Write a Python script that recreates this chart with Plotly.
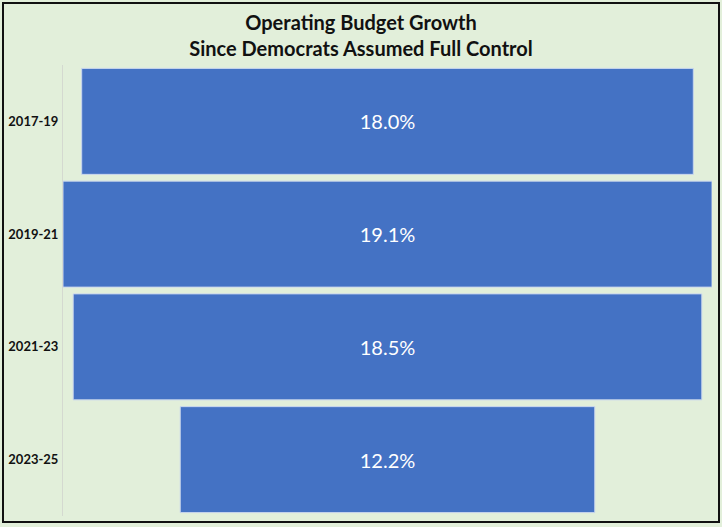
import plotly.graph_objects as go

periods = ["2017-19", "2019-21", "2021-23", "2023-25"]
growth = [18.0, 19.1, 18.5, 12.2]

bg = "#E2EFDA"
bar_color = "#4472C4"
half = max(growth) / 2

fig = go.Figure(go.Funnel(
    y=periods,
    x=growth,
    texttemplate="%{x:.1f}%",
    textposition="inside",
    textfont=dict(color="white", size=20, family="Lato"),
    marker=dict(color=bar_color, line=dict(color="#C9D6EE", width=1)),
    connector=dict(visible=False),
    hoverinfo="y+x",
))

fig.update_layout(
    width=722, height=527,
    paper_bgcolor=bg, plot_bgcolor=bg,
    margin=dict(l=63, r=10, t=65, b=11),
    title=dict(
        text="<b>Operating Budget Growth<br>Since Democrats Assumed Full Control</b>",
        x=0.5, xanchor="center", yref="container", y=1 - 30 / 527, yanchor="middle",
        font=dict(family="Lato", size=20, color="#111111"),
    ),
    funnelgap=0.06,
    showlegend=False,
    xaxis=dict(visible=False, range=[-half, half]),
    yaxis=dict(
        showline=True, linecolor="#D4D9D0", linewidth=1, automargin=False,
        tickfont=dict(family="Lato", size=13, color="#111111", weight="bold"),
        ticks="", ticklabelstandoff=1, showgrid=False,
    ),
    shapes=[dict(
        type="rect", xref="paper", yref="paper",
        x0=(3 - 63) / 649, x1=(719 - 63) / 649,
        y0=(516 - 522) / 451, y1=(516 - 3) / 451,
        line=dict(color="#111111", width=2), fillcolor="rgba(0,0,0,0)",
        layer="above",
    )],
)

fig.write_html(
    "out.html",
    config={"displayModeBar": False},
    post_script="document.body.style.margin='0';document.body.style.overflow='hidden';",
)
